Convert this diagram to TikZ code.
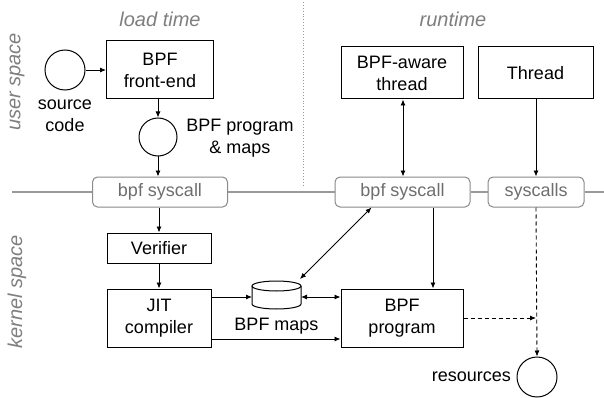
\documentclass[tikz,border=0pt]{standalone}
\usepackage{fontspec}
\setmainfont{Liberation Sans}
\usetikzlibrary{arrows.meta,calc}
\definecolor{lbl}{HTML}{7F7F7F}
\definecolor{sysc}{HTML}{6E6E6E}
\definecolor{sysb}{HTML}{8A8A8A}
\definecolor{hline}{HTML}{9A9A9A}
\begin{document}
\begin{tikzpicture}[x=1pt,y=-1pt,
  txt/.style={font=\fontsize{18}{22}\selectfont, align=center, inner sep=0pt},
  box/.style={txt, draw=black, line width=1pt, rectangle},
  sysbox/.style={draw=sysb, line width=1pt, rounded corners=5pt, text=sysc, font=\fontsize{18}{22}\selectfont, inner sep=0pt},
  circ/.style={draw=black, line width=1pt, circle, inner sep=0pt},
  ital/.style={text=lbl, font=\fontsize{20}{22}\selectfont\itshape, inner sep=0pt},
  arr/.style={line width=0.9pt, -{Latex[length=6pt,width=5pt]}},
  darr/.style={line width=0.9pt, {Latex[length=6pt,width=5pt]}-{Latex[length=6pt,width=5pt]}},
  dsh/.style={line width=0.9pt, dash pattern=on 4pt off 3pt}
]
\useasboundingbox (0,0) rectangle (604,398);
\fill[white] (0,0) rectangle (604,398);

% section labels
\node[ital] (lt) at (160,19) {load time};
\node[ital] (rt) at (453,19) {runtime};
\node[ital, rotate=90] (us) at (17,82) {user space};
\node[ital, rotate=90] (ks) at (17,292) {kernel space};
\coordinate (dtop) at (303,2);
\coordinate (dbot) at (303,185);
\draw[hline, line width=0.9pt, dotted] (dtop) -- (dbot);

% syscall boxes
\node[sysbox, minimum width=135pt, minimum height=30pt] (sys1) at (160,192) {bpf syscall};
\node[sysbox, minimum width=135pt, minimum height=30pt] (sys2) at (402.5,192) {bpf syscall};
\node[sysbox, minimum width=96pt, minimum height=30pt] (sys3) at (536,192) {syscalls};
\coordinate (hl) at (12,192);
\coordinate (hr) at (604,192);
\draw[hline, line width=1.2pt] (hl) -- (sys1.west) (sys1.east) -- (sys2.west) (sys2.east) -- (sys3.west) (sys3.east) -- (hr);

% user space, load time
\node[circ, minimum size=40pt] (src) at (65,70) {};
\node[txt] (srcl) at (65,116) {source\\code};
\node[box, minimum width=107pt, minimum height=58pt] (fe) at (160,70) {BPF\\front-end};
\node[circ, minimum size=38pt] (pm) at (158,137) {};
\node[txt] (pml) at (240,138) {BPF program\\\& maps};

% kernel, load time
\node[box, minimum width=104pt, minimum height=30pt] (ver) at (159,248) {Verifier};
\node[box, minimum width=104pt, minimum height=58pt] (jit) at (159,318) {JIT\\compiler};

% BPF maps cylinder
\node[minimum width=49pt, minimum height=28pt, inner sep=0pt] (maps) at (276.5,295) {};
\draw[line width=1pt, fill=white] (252,286) -- (252,304) arc[start angle=180, end angle=360, x radius=24.5pt, y radius=5pt] -- (301,286);
\draw[line width=1pt] (276.5,286) ellipse[x radius=24.5pt, y radius=5pt];
\node[txt] (mapsl) at (276.5,326) {BPF maps};

% runtime
\node[box, minimum width=122pt, minimum height=52pt] (bat) at (402,73) {BPF-aware\\thread};
\node[box, minimum width=115pt, minimum height=52pt] (thr) at (535.5,73) {Thread};
\node[box, minimum width=122pt, minimum height=58pt] (prog) at (402,318) {BPF\\program};
\node[circ, minimum size=40pt] (res) at (537,377) {};
\node[txt, anchor=east] (resl) at (511,377) {resources};

% connectors
\draw[arr] (src) -- (fe.west |- src);
\draw[arr] (fe.south -| pm) -- (pm);
\draw[arr] (pm) -- (sys1.north -| pm);
\draw[arr] (sys1.south -| ver) -- (ver);
\draw[arr] (ver) -- (jit);
\draw[arr] ($(jit.east)+(0,-21)$) -- (252,297);
\draw[arr] ($(jit.east)+(0,21)$) -- ($(prog.west)+(0,21)$);
\draw[darr] (301,297) -- ($(prog.west)+(0,-21)$);
\draw[darr] ($(sys2.south west)+(37,0)$) -- (300,279);
\draw[darr] (bat.south -| 403,0) -- (sys2.north -| 403,0);
\draw[arr] (thr.south -| sys3) -- (sys3.north);
\draw[arr] ($(sys2.south)+(30.5,0)$) -- ($(prog.north)+(31,0)$);
\draw[dsh, -{Latex[length=6pt,width=5pt]}] (sys3.south) -- (res.north);
\coordinate (dj) at (536,318);
\draw[dsh, -{Latex[length=6pt,width=5pt]}] (prog.east) -- (dj);
\end{tikzpicture}
\end{document}
